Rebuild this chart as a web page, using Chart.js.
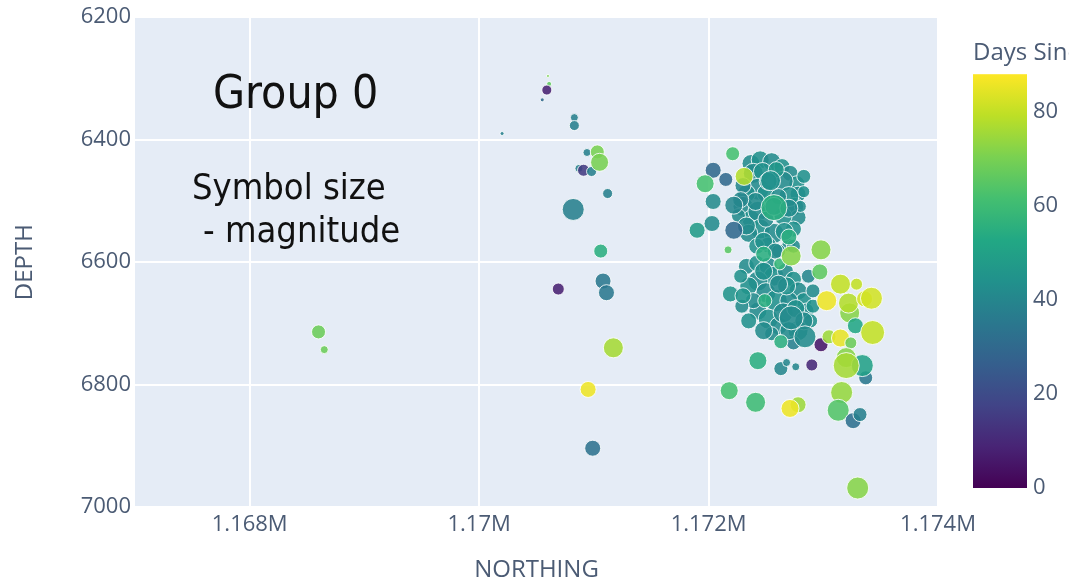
<!DOCTYPE html>
<html>
<head>
<meta charset="utf-8">
<script src="https://cdn.jsdelivr.net/npm/chart.js@4.4.1/dist/chart.umd.min.js"></script>
<style>
html, body { margin: 0; padding: 0; background: #ffffff; }
#wrap { width: 1069px; height: 587px; position: relative; }
</style>
</head>
<body>
<div id="wrap"><canvas id="c" width="1069" height="587"></canvas></div>
<script>
// Event catalogue, Group 0: northing (m), depth (ft), days since start, magnitude.
const NORTHING = [
  // upper part of the main cluster
  1172370,1172450,1172550,1172640,1172710,1172770,1172780,1172750,1172780,1172740,
  1172700,1172390,1172470,1172650,1172700,1172430,1172330,1172300,1172370,1172430,
  1172450,1172350,1172570,1172650,1172520,1172420,1172610,1172300,1172260,1172500,
  1172610,1172590,1172830,1172800,1172500,
  1172410,1172570,1172700,1172520,1172330,1172660,1172740,1172480,1172580,1172830,1172280,
  // lower part of the main cluster
  1172330,1172420,1172520,1172570,1172670,1172740,1172780,1172830,1172850,1172890,
  1172430,1172350,1172500,1172590,1172430,1172520,1172610,1172780,1172700,1172390,
  1172280,1172910,1172870,1172680,1172550,1172740,1172290,1172650,
  1172480,1172610,1172760,1172480,1172350,1172830,1172910,1172700,
  // western events
  1168600,1168650,1170600,1170610,1170590,1170550,1170200,1170830,1170830,1170940,
  1171030,1170870,1170910,1170980,1171050,1171120,1170820,1171060,1170690,1171080,
  1171110,1171170,1170950,1170990,
  // eastern events around and below the cluster
  1172210,1172040,1172150,1171970,1172310,1172040,1172220,1172030,1171900,1172220,
  1172170,1172540,1172570,1172700,1172480,1172620,1172720,1172980,1172970,1172190,
  1172300,1172490,1172720,1172840,1172630,1173150,1173290,1173230,1173220,1173360,
  1173420,1173030,1173280,1173430,1172980,1173050,1173150,1173240,1173200,1172430,
  1172630,1172680,1172760,1172900,1173370,1173340,1173200,1172180,1172410,1172780,
  1172710,1173160,1173130,1173260,1173320,1173300
];
const DEPTH = [
  6439,6433,6436,6444,6455,6472,6489,6509,6527,6546,
  6572,6455,6452,6468,6493,6481,6488,6509,6530,6517,
  6546,6553,6553,6525,6572,6574,6582,6475,6524,6488,
  6493,6449,6485,6509,6530,
  6501,6509,6512,6468,6541,6550,6574,6566,6582,6460,6498,
  6607,6602,6607,6623,6615,6628,6647,6663,6680,6696,
  6631,6639,6650,6663,6680,6693,6704,6712,6663,6663,
  6623,6647,6623,6639,6717,6732,6672,6683,
  6615,6636,6676,6712,6696,6696,6672,6712,
  6714,6743,6296,6309,6319,6335,6390,6364,6377,6421,
  6420,6447,6450,6452,6437,6488,6514,6582,6644,6631,
  6650,6740,6808,6904,
  6423,6450,6465,6472,6460,6501,6507,6537,6548,6548,
  6580,6467,6511,6559,6587,6603,6590,6580,6616,6652,
  6655,6663,6691,6722,6730,6636,6636,6683,6667,6660,
  6659,6663,6704,6715,6735,6722,6724,6732,6756,6761,
  6774,6764,6771,6768,6789,6769,6769,6810,6829,6833,
  6839,6813,6842,6859,6849,6969
];
const DAYS = [
  42,44,42,44,42,44,42,44,42,44,
  42,42,44,42,44,42,44,42,44,42,
  44,42,42,44,42,44,42,40,42,44,
  42,46,44,42,42,
  42,44,42,44,42,44,42,44,42,44,40,
  42,44,42,44,42,44,42,44,42,44,
  42,44,42,44,42,44,42,44,42,42,
  44,42,40,44,42,38,42,42,
  44,42,44,42,44,42,44,42,
  68,68,70,66,8,30,38,38,38,38,
  70,38,15,38,70,38,38,55,8,35,
  35,76,86,33,
  62,30,30,62,78,42,40,42,48,30,
  65,44,55,55,55,58,72,72,66,45,
  45,55,42,42,55,80,80,72,78,82,
  82,86,52,80,5,75,85,68,72,55,
  40,40,40,10,35,50,76,62,60,75,
  86,74,64,32,38,72
];
const MAGNITUDE = [
  -0.4,-0.4,-0.4,-0.6,-0.6,-0.6,-0.6,-0.4,-0.6,-0.6,
  -0.8,-0.2,-0.4,-0.2,-0.2,0.0,-0.4,-0.2,-0.4,-0.2,
  -0.2,-0.4,-0.2,-0.4,-0.6,-0.6,-0.8,-0.6,-0.8,-0.4,
  -0.6,-0.6,-1.0,-1.0,-0.6,
  -0.4,-0.4,-0.4,-0.4,-0.4,-0.4,-0.8,-0.4,-0.6,-0.8,-0.6,
  -0.6,-0.6,-0.4,-0.2,-0.6,-0.6,-0.4,-0.6,-0.6,-0.8,
  -0.2,-0.4,-0.2,0.0,-0.4,-0.2,-0.4,-0.2,-0.4,-0.6,
  -0.8,-0.8,-0.8,-0.4,-0.8,-0.8,-0.8,-0.2,
  -0.4,-0.4,-0.4,-0.4,-0.6,-0.4,-0.8,-0.4,
  -0.8,-1.4,-1.9,-1.7,-1.2,-1.8,-1.8,-1.4,-1.2,-1.4,
  -0.8,-1.4,-1.0,-1.2,-0.4,-1.2,0.0,-0.8,-1.0,-0.6,
  -0.6,-0.2,-0.6,-0.6,
  -0.8,-0.6,-0.8,-0.4,-0.4,-0.6,-0.4,-0.6,-0.6,-0.4,
  -1.4,-0.2,0.4,-0.6,-0.6,-1.0,-0.2,-0.2,-0.6,-0.6,
  -0.6,-0.8,0.2,0.0,-0.8,-0.2,-1.0,-0.2,-0.2,-0.6,
  0.0,-0.2,-0.6,0.2,-0.8,-0.8,-0.4,-1.0,-0.2,-0.4,
  -0.8,-1.4,-1.4,-1.0,-0.8,0.0,0.4,-0.4,-0.2,-0.6,
  -0.4,0.0,0.0,-0.6,-0.8,0.0
];

const X_TICKS = [1168000, 1170000, 1172000, 1174000];
const X_TICK_LABELS = ['1.168M', '1.17M', '1.172M', '1.174M'];
const Y_TICKS = [6200, 6400, 6600, 6800, 7000];
const CB_TICKS = [0, 20, 40, 60, 80];
const CB_MIN = 0, CB_MAX = 88;
const CB_TITLE = 'Days Since Start';
const TITLE_TEXT = 'Group 0';
const NOTE_LINES = ['Symbol size', '- magnitude'];

// Viridis colour scale
const VIRIDIS = ['#440154','#482475','#414487','#355f8d','#2a788e','#21918c',
                 '#22a884','#44bf70','#7ad151','#bddf26','#fde725'];
function hexRgb(h) {
  return [parseInt(h.slice(1,3),16), parseInt(h.slice(3,5),16), parseInt(h.slice(5,7),16)];
}
function viridis(v, alpha) {
  let t = (v - CB_MIN) / (CB_MAX - CB_MIN);
  t = Math.max(0, Math.min(1, t));
  const p = t * (VIRIDIS.length - 1);
  const i = Math.min(VIRIDIS.length - 2, Math.floor(p));
  const f = p - i;
  const a = hexRgb(VIRIDIS[i]), b = hexRgb(VIRIDIS[i + 1]);
  const c = a.map((x, k) => Math.round(x + (b[k] - x) * f));
  return `rgba(${c[0]},${c[1]},${c[2]},${alpha})`;
}
// marker radius grows linearly with magnitude
function magRadius(m) { return 1 + (m + 2) * 5; }

const TICK_COLOR = '#4b5b74';
const TICK_FONT = { family: '"Open Sans", sans-serif', size: 22 };
const AXIS_TITLE_FONT = { family: '"Open Sans", sans-serif', size: 24 };
const NOTE_FAMILY = '"DejaVu Sans Condensed", "DejaVu Sans", sans-serif';

const plotBackground = {
  id: 'plotBackground',
  beforeDraw(chart) {
    const { ctx, chartArea: a } = chart;
    ctx.save();
    ctx.fillStyle = '#e5ecf6';
    ctx.fillRect(a.left, a.top, a.right - a.left, a.bottom - a.top);
    ctx.restore();
  }
};

const overlay = {
  id: 'overlay',
  afterDraw(chart) {
    const { ctx, chartArea: a } = chart;
    ctx.save();
    // colour bar
    const x0 = a.right + 35, w = 54, top = a.top + 57, bottom = a.bottom - 19;
    const g = ctx.createLinearGradient(0, bottom, 0, top);
    VIRIDIS.forEach((c, i) => g.addColorStop(i / (VIRIDIS.length - 1), c));
    ctx.fillStyle = g;
    ctx.fillRect(x0, top, w, bottom - top);
    ctx.fillStyle = TICK_COLOR;
    ctx.font = `${TICK_FONT.size}px ${TICK_FONT.family}`;
    ctx.textAlign = 'left';
    ctx.textBaseline = 'middle';
    CB_TICKS.forEach(v => {
      const y = bottom - (v - CB_MIN) / (CB_MAX - CB_MIN) * (bottom - top);
      ctx.fillText(String(v), x0 + w + 6, y);
    });
    ctx.textBaseline = 'alphabetic';
    ctx.font = `24px ${TICK_FONT.family}`;
    ctx.fillText(CB_TITLE, x0, top - 14);

    // in-plot notes
    ctx.fillStyle = '#111111';
    ctx.font = `46px ${NOTE_FAMILY}`;
    ctx.fillText(TITLE_TEXT, a.left + 78, a.top + 91);
    ctx.font = `36px ${NOTE_FAMILY}`;
    ctx.fillText(NOTE_LINES[0], a.left + 57, a.top + 182);
    ctx.fillText(NOTE_LINES[1], a.left + 68, a.top + 225);
    ctx.restore();
  }
};

const points = NORTHING.map((n, i) => ({ x: n, y: DEPTH[i] }));

new Chart(document.getElementById('c').getContext('2d'), {
  type: 'scatter',
  data: {
    datasets: [{
      data: points,
      pointRadius: MAGNITUDE.map(magRadius),
      pointHoverRadius: MAGNITUDE.map(magRadius),
      pointBackgroundColor: DAYS.map(d => viridis(d, 0.88)),
      pointBorderColor: 'rgba(255,255,255,0.85)',
      pointBorderWidth: 1
    }]
  },
  options: {
    responsive: false,
    animation: false,
    devicePixelRatio: 1,
    layout: { padding: { left: 0, top: 15, right: 131, bottom: 0 } },
    plugins: { legend: { display: false }, tooltip: { enabled: false } },
    scales: {
      x: {
        type: 'linear',
        min: 1167000,
        max: 1174000,
        afterBuildTicks: s => { s.ticks = X_TICKS.map(v => ({ value: v })); },
        afterFit: s => { s.height = 80; },
        grid: { color: '#ffffff', lineWidth: 2, drawTicks: false },
        border: { display: false },
        ticks: {
          autoSkip: false, maxRotation: 0, padding: 5,
          color: TICK_COLOR, font: TICK_FONT,
          callback: v => { const i = X_TICKS.indexOf(v); return i >= 0 ? X_TICK_LABELS[i] : ''; }
        },
        title: { display: true, text: 'NORTHING', color: TICK_COLOR, font: AXIS_TITLE_FONT,
                 padding: { top: 0, bottom: 2 } }
      },
      y: {
        type: 'linear',
        reverse: true,
        min: 6200,
        max: 7000,
        afterBuildTicks: s => { s.ticks = Y_TICKS.map(v => ({ value: v })); },
        afterFit: s => { s.width = 135; },
        grid: { color: '#ffffff', lineWidth: 2, drawTicks: false },
        border: { display: false },
        ticks: { autoSkip: false, padding: 4, color: TICK_COLOR, font: TICK_FONT,
                 callback: v => String(v) },
        title: { display: true, text: 'DEPTH', color: TICK_COLOR, font: AXIS_TITLE_FONT,
                 padding: { top: 11, bottom: 0 } }
      }
    }
  },
  plugins: [plotBackground, overlay]
});
</script>
</body>
</html>
